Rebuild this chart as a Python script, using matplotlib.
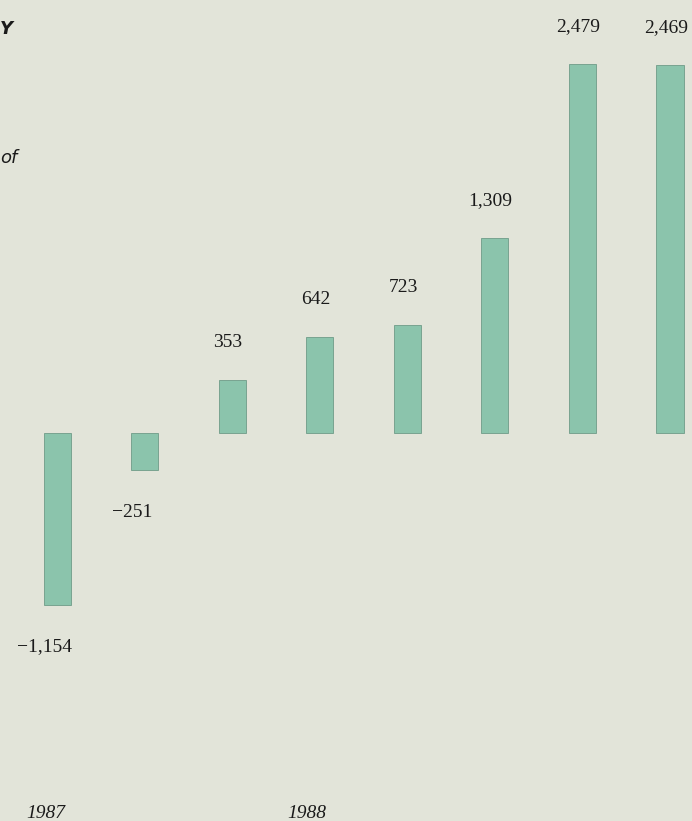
import matplotlib.pyplot as plt
import matplotlib.transforms as mtransforms

# quarterly values, 1987-1988
quarters = ['1987 Q1', '1987 Q2', '1987 Q3', '1987 Q4',
            '1988 Q1', '1988 Q2', '1988 Q3', '1988 Q4']
values = [-1154, -251, 353, 642, 723, 1309, 2479, 2469]
value_labels = ['\u22121,154', '\u2212251', '353', '642', '723', '1,309', '2,479', '2,469']
years = ['1987', '1988']
year_x = [-0.13, 2.85]

bg = '#e2e4d9'
bar_color = '#8bc4ac'

fig = plt.figure(figsize=(6.92, 8.21), dpi=100, facecolor=bg)
ax = fig.add_axes([0, 0, 1, 1], facecolor=bg)

x = list(range(len(values)))
ax.bar(x, values, width=0.31, color=bar_color, edgecolor='#6f9c88', linewidth=0.6)

for xi, v, lab in zip(x, values, value_labels):
    if v >= 0:
        ax.annotate(lab, (xi, v), xytext=(-3, 27), textcoords='offset points',
                    ha='center', va='center', fontsize=14, family='Liberation Serif',
                    color='#1a1a1a')
    else:
        ax.annotate(lab, (xi, v), xytext=(-9, -30), textcoords='offset points',
                    ha='center', va='center', fontsize=14, family='Liberation Serif',
                    color='#1a1a1a')

# year captions along the bottom
trans = mtransforms.blended_transform_factory(ax.transData, ax.transAxes)
for yx, yr in zip(year_x, years):
    ax.text(yx, 0.009, yr, transform=trans, ha='center', va='center',
            fontsize=14, style='italic', family='Liberation Serif', color='#1a1a1a')

# bits of the title that run off the left edge
ax.text(0.0, 0.965, 'Y', transform=ax.transAxes, ha='left', va='center',
        fontsize=13, style='italic', weight='bold', family='DejaVu Sans', color='#1a1a1a')
ax.text(0.0, 0.807, 'of', transform=ax.transAxes, ha='left', va='center',
        fontsize=13, style='italic', family='DejaVu Sans', color='#1a1a1a')

ax.set_xlim(-0.652, 7.252)
ax.set_ylim(-2604, 2906)
ax.axis('off')

fig.savefig('out.png', dpi=100, facecolor=bg)
